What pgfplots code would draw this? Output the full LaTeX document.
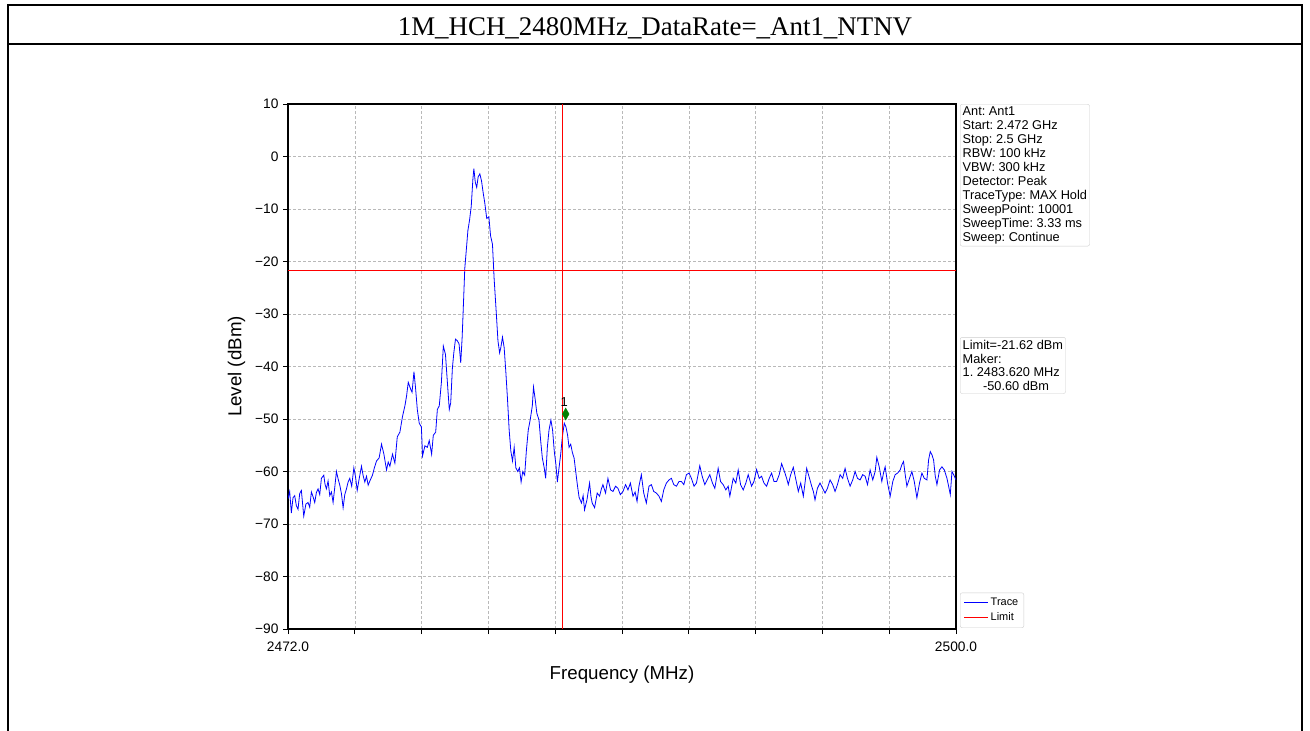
\documentclass[border=0pt]{standalone}
\usepackage{fontspec}
\setmainfont{Liberation Serif}
\setsansfont{Liberation Sans}
\usepackage{pgfplots}
\pgfplotsset{compat=1.18}
\definecolor{mk}{RGB}{0,128,0}
\frenchspacing
\begin{document}
\begin{tikzpicture}
\begin{scope}[x=1bp,y=-1bp]
\path[use as bounding box] (0,0) rectangle (1310,730);
\draw[line width=2.2bp] (8,731) -- (8,5) -- (1302,5) -- (1302,731);
\draw[line width=2.6bp] (8,44) -- (1302,44);
\node[font=\fontsize{27}{29}\selectfont\rmfamily, anchor=base] at (655,35.7) {1M\_HCH\_2480MHz\_DataRate=\_Ant1\_NTNV};
\end{scope}
\begin{axis}[
  at={(288bp,-629bp)}, anchor=south west,
  scale only axis, width=668bp, height=525bp,
  xmin=2472, xmax=2500, ymin=-90, ymax=10,
  xtick={2472,2474.8,2477.6,2480.4,2483.2,2486,2488.8,2491.6,2494.4,2497.2,2500},
  xticklabels={2472.0,,,,,,,,,,2500.0},
  ytick={-90,-80,-70,-60,-50,-40,-30,-20,-10,0,10},
  yticklabels={−90,−80,−70,−60,−50,−40,−30,−20,−10,0,10},
  xtick pos=bottom, ytick pos=left,
  tick align=outside, major tick length=5bp,
  tick style={black, line width=0.9bp},
  axis line style={black, line width=1.1bp},
  grid=major,
  grid style={gray!55, line width=0.5bp, dash pattern=on 3bp off 2bp},
  ticklabel style={font=\sffamily\fontsize{13.8}{15}\selectfont},
  xticklabel style={yshift=-4bp},
  yticklabel style={xshift=-1bp},
  label style={font=\sffamily\fontsize{18.8}{20}\selectfont},
  xlabel={Frequency (MHz)}, ylabel={Level (dBm)},
  xlabel style={at={(axis description cs:0.5,0)}, yshift=-33bp},
  ylabel style={yshift=3bp},
  legend style={at={(rel axis cs:1.006,0.002)}, anchor=south west,
    font=\sffamily\fontsize{11}{12}\selectfont, draw=gray!40, rounded corners=2bp,
    row sep=1.5bp, inner sep=3.5bp},
  legend image code/.code={\draw[#1] (0bp,0bp) -- (24bp,0bp);},
  legend cell align=left,
  clip mode=individual,
]
\addlegendimage{color=blue, line width=1bp}
\addlegendentry{Trace}
\addlegendimage{color=red, line width=1bp}
\addlegendentry{Limit}
\addplot[color=blue, line width=0.8bp, forget plot] coordinates {
(2472.00,-65.2) (2472.07,-63.8) (2472.14,-67.9) (2472.21,-65.0) (2472.28,-64.6) (2472.35,-66.5) (2472.42,-67.2) (2472.49,-64.2) (2472.56,-63.6)
(2472.66,-68.5) (2472.75,-66.2) (2472.84,-65.9) (2472.91,-66.8) (2472.98,-63.9) (2473.05,-64.8) (2473.12,-65.9) (2473.19,-64.0) (2473.26,-63.3)
(2473.33,-64.4) (2473.40,-61.3) (2473.50,-60.7) (2473.55,-62.4) (2473.61,-63.3) (2473.68,-61.8) (2473.75,-64.6) (2473.82,-63.9) (2473.89,-65.9)
(2473.96,-63.0) (2474.03,-60.0) (2474.10,-61.4) (2474.17,-62.6) (2474.24,-64.2) (2474.31,-66.9) (2474.38,-64.4) (2474.45,-63.3) (2474.52,-62.0) (2474.59,-61.3)
(2474.67,-62.8) (2474.76,-59.3) (2474.83,-61.0) (2474.90,-63.6) (2474.99,-61.2) (2475.08,-59.0) (2475.15,-60.8) (2475.22,-62.0) (2475.29,-60.9) (2475.36,-62.6)
(2475.45,-61.6) (2475.54,-60.7) (2475.62,-59.3) (2475.71,-58.0) (2475.82,-57.4) (2475.92,-54.8) (2476.02,-56.7)
(2476.13,-59.7) (2476.20,-58.2) (2476.27,-59.0) (2476.38,-56.7) (2476.48,-58.4) (2476.58,-53.4)
(2476.69,-52.5) (2476.80,-49.5) (2476.90,-47.5) (2476.97,-45.6) (2477.04,-43.0)
(2477.14,-44.3) (2477.20,-44.9) (2477.28,-41.0) (2477.35,-44.3) (2477.42,-48.2)
(2477.50,-50.8) (2477.59,-51.5) (2477.64,-57.0) (2477.74,-55.1) (2477.84,-55.4)
(2477.92,-54.1) (2478.02,-56.7) (2478.09,-53.1) (2478.19,-52.5) (2478.26,-48.2)
(2478.34,-47.5) (2478.43,-43.0) (2478.51,-36.1) (2478.60,-37.7) (2478.68,-43.0)
(2478.76,-48.2) (2478.82,-46.9) (2478.89,-40.3) (2478.95,-37.4) (2479.02,-34.8)
(2479.10,-35.1) (2479.17,-35.7) (2479.24,-39.3) (2479.30,-34.4) (2479.35,-28.5)
(2479.41,-21.3) (2479.47,-18.0) (2479.54,-14.1) (2479.61,-12.1) (2479.68,-9.5)
(2479.75,-4.3) (2479.79,-2.3) (2479.85,-4.9) (2479.91,-5.9) (2479.97,-3.9)
(2480.04,-3.3) (2480.11,-4.6) (2480.18,-6.9) (2480.25,-8.9) (2480.33,-11.8)
(2480.42,-11.5) (2480.49,-15.1) (2480.57,-16.7) (2480.64,-23.3) (2480.73,-29.8)
(2480.80,-35.1) (2480.87,-37.4) (2480.92,-36.4) (2480.99,-34.4) (2481.06,-36.4)
(2481.13,-41.0) (2481.20,-46.2) (2481.27,-52.1) (2481.34,-56.1) (2481.41,-58.0)
(2481.48,-55.4) (2481.55,-59.3) (2481.63,-60.0) (2481.70,-59.3) (2481.77,-62.0)
(2481.84,-60.0) (2481.92,-60.7) (2481.99,-56.1) (2482.07,-52.1) (2482.15,-50.2)
(2482.24,-47.5) (2482.29,-43.9) (2482.36,-46.2) (2482.43,-48.9) (2482.52,-50.2)
(2482.59,-54.1) (2482.66,-57.4) (2482.74,-59.3) (2482.80,-61.3) (2482.87,-55.4)
(2482.94,-52.1) (2483.02,-50.2) (2483.09,-52.1) (2483.16,-56.1) (2483.23,-58.7)
(2483.29,-62.0) (2483.36,-59.3) (2483.43,-56.7) (2483.50,-53.4) (2483.58,-50.8)
(2483.65,-51.5) (2483.72,-53.1) (2483.78,-55.4) (2483.85,-54.8) (2483.92,-56.4)
(2483.99,-57.4) (2484.06,-60.0) (2484.13,-62.6) (2484.20,-64.9) (2484.30,-66.0)
(2484.37,-64.6) (2484.43,-67.3) (2484.53,-65.4) (2484.64,-62.2) (2484.70,-64.8) (2484.75,-66.0) (2484.85,-66.9)
(2484.96,-64.1) (2485.06,-64.7) (2485.13,-63.4) (2485.20,-62.5) (2485.31,-64.1) (2485.41,-61.3)
(2485.52,-63.5) (2485.62,-63.8) (2485.73,-62.8) (2485.83,-63.2) (2485.93,-64.4)
(2486.04,-63.8) (2486.15,-62.5) (2486.25,-63.5) (2486.35,-62.2) (2486.46,-64.7)
(2486.55,-63.9) (2486.63,-65.7) (2486.71,-62.8) (2486.81,-60.6) (2486.91,-64.1) (2487.02,-66.0)
(2487.13,-62.8) (2487.23,-62.5) (2487.33,-63.8) (2487.44,-64.1) (2487.55,-64.7)
(2487.65,-65.7) (2487.75,-63.5) (2487.86,-62.2) (2487.97,-61.6) (2488.07,-61.3)
(2488.17,-62.5) (2488.28,-62.8) (2488.39,-61.9) (2488.49,-61.9) (2488.59,-62.5)
(2488.70,-60.6) (2488.81,-60.3) (2488.91,-61.3) (2489.02,-62.8) (2489.12,-62.2)
(2489.26,-58.9) (2489.36,-60.9) (2489.47,-62.5) (2489.57,-61.6) (2489.68,-60.6)
(2489.79,-62.2) (2489.89,-63.2) (2490.03,-59.4) (2490.13,-61.9) (2490.24,-62.5)
(2490.35,-63.5) (2490.45,-62.8) (2490.52,-64.7) (2490.66,-61.3) (2490.77,-62.2)
(2490.87,-59.7) (2490.97,-62.5) (2491.08,-63.5) (2491.19,-62.2) (2491.29,-60.6)
(2491.43,-62.8) (2491.53,-61.9) (2491.64,-59.6) (2491.75,-61.3) (2491.85,-60.9)
(2491.95,-62.2) (2492.06,-62.8) (2492.17,-61.3) (2492.27,-60.3) (2492.37,-61.9)
(2492.48,-61.9) (2492.59,-60.6) (2492.69,-58.5) (2492.76,-59.4) (2492.83,-60.3)
(2492.90,-61.3) (2492.97,-62.5) (2493.07,-60.6) (2493.18,-59.2) (2493.29,-61.6)
(2493.39,-63.8) (2493.49,-62.2) (2493.60,-64.7) (2493.67,-62.2) (2493.74,-59.4)
(2493.86,-61.3) (2493.95,-62.8) (2494.02,-63.8) (2494.09,-65.4) (2494.19,-63.2)
(2494.30,-62.2) (2494.41,-63.2) (2494.51,-64.1) (2494.61,-63.2) (2494.72,-61.6)
(2494.83,-62.5) (2494.93,-63.8) (2495.03,-62.5) (2495.14,-60.6) (2495.25,-61.3)
(2495.35,-59.4) (2495.45,-61.3) (2495.56,-62.8) (2495.67,-61.6) (2495.77,-60.0)
(2495.87,-61.3) (2495.98,-61.6) (2496.09,-60.6) (2496.19,-60.9) (2496.29,-62.5)
(2496.40,-59.7) (2496.51,-61.6) (2496.61,-60.0) (2496.68,-57.3) (2496.78,-59.1)
(2496.89,-61.9) (2496.96,-60.3) (2497.03,-59.1) (2497.13,-62.2) (2497.24,-64.7)
(2497.35,-61.9) (2497.45,-60.6) (2497.55,-60.3) (2497.66,-59.7) (2497.73,-58.7)
(2497.80,-58.1) (2497.87,-60.6) (2497.94,-62.8) (2498.05,-61.3) (2498.15,-60.0)
(2498.25,-61.9) (2498.36,-65.0) (2498.47,-62.2) (2498.57,-60.3) (2498.67,-61.3)
(2498.78,-61.6) (2498.85,-57.8) (2498.92,-56.2) (2498.99,-56.8) (2499.06,-57.8)
(2499.13,-60.9) (2499.20,-62.5) (2499.31,-59.7) (2499.41,-59.1) (2499.51,-59.7)
(2499.62,-61.3) (2499.69,-62.8) (2499.76,-64.4) (2499.83,-60.0) (2499.90,-60.6)
(2500.00,-61.6)
};
\addplot[color=red, line width=0.8bp, forget plot] coordinates {(2472,-21.62) (2500,-21.62)};
\addplot[color=red, line width=0.9bp, forget plot] coordinates {(2483.50,-90) (2483.50,10)};
\addplot[only marks, mark=diamond*, mark size=6bp, mark options={xscale=0.75, fill=mk, draw=mk}, forget plot] coordinates {(2483.64,-49.05)};
\node[font=\sffamily\fontsize{13}{15}\selectfont, inner sep=0pt, anchor=base] at (axis cs:2483.58,-47.6) {1};
\node[draw=gray!40, rounded corners=2bp, anchor=north west, align=left, inner sep=2.5bp,
      font=\sffamily\fontsize{12.8}{14}\selectfont] at (rel axis cs:1.006,1.0)
  {Ant: Ant1\\Start: 2.472 GHz\\Stop: 2.5 GHz\\RBW: 100 kHz\\VBW: 300 kHz\\Detector: Peak\\TraceType: MAX Hold\\SweepPoint: 10001\\SweepTime: 3.33 ms\\Sweep: Continue};
\node[draw=gray!40, rounded corners=2bp, anchor=north west, align=left, inner sep=2.5bp,
      font=\sffamily\fontsize{12.8}{14}\selectfont] at (rel axis cs:1.006,0.556)
  {Limit=-21.62 dBm\\Maker:\\1. 2483.620 MHz\\\hspace*{1.6em}-50.60 dBm};
\end{axis}
\end{tikzpicture}
\end{document}
